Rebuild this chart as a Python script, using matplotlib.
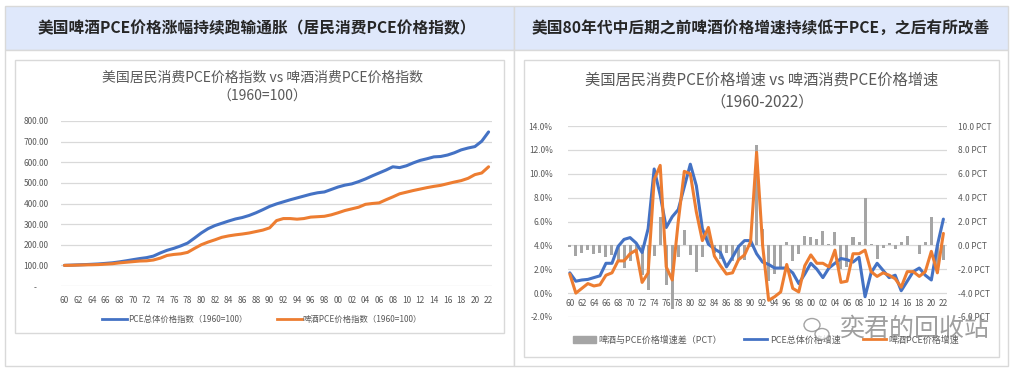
import matplotlib
matplotlib.use('Agg')
import matplotlib.pyplot as plt
from matplotlib.patches import Rectangle, Ellipse
from matplotlib.lines import Line2D
from matplotlib.ticker import FuncFormatter, MultipleLocator

plt.rcParams['font.family'] = ['Noto Sans CJK SC', 'DejaVu Sans']

years = list(range(1960, 2023))

# left chart: price index, 1960 = 100
pce_index = [100, 101.2, 102.5, 103.7, 105.3, 107.0, 109.7, 112.4, 116.8, 122.0,
             127.6, 133.0, 137.5, 144.9, 160.0, 173.1, 182.7, 194.4, 208.0, 232.0,
             257.0, 278.0, 293.0, 304.0, 315.0, 325.0, 332.0, 342.0, 355.0, 370.0,
             386.0, 398.0, 408.0, 418.0, 427.0, 436.0, 445.0, 452.0, 456.0, 468.0,
             480.0, 489.0, 495.0, 506.0, 519.0, 534.0, 548.0, 562.0, 578.0, 574.0,
             583.0, 597.0, 609.0, 617.0, 626.0, 628.0, 635.0, 646.0, 660.0, 669.0,
             676.0, 702.0, 747.0]
beer_index = [100, 100.5, 101.5, 102.5, 103.0, 104.0, 106.0, 108.0, 112.0, 115.0,
              118.0, 121.0, 122.0, 126.0, 135.0, 148.0, 153.0, 156.0, 163.0, 182.0,
              200.0, 213.0, 224.0, 236.0, 243.0, 248.0, 252.0, 257.0, 264.0, 271.0,
              282.0, 317.0, 327.0, 327.0, 324.0, 327.0, 334.0, 336.0, 338.0, 345.0,
              355.0, 366.0, 374.0, 382.0, 396.0, 400.0, 403.0, 418.0, 432.0, 447.0,
              455.0, 463.0, 470.0, 477.0, 483.0, 488.0, 496.0, 504.0, 511.0, 522.0,
              540.0, 548.0, 578.0]

# right chart: yearly growth (%) and gap (pct points)
pce_growth = [1.7, 1.0, 1.1, 1.15, 1.3, 1.45, 2.5, 2.5, 3.9, 4.5,
              4.65, 4.2, 3.4, 5.4, 10.4, 8.2, 5.5, 6.4, 7.0, 8.9,
              10.8, 9.0, 5.4, 4.1, 3.7, 3.4, 2.2, 3.0, 3.9, 4.4,
              4.4, 3.3, 2.6, 2.4, 2.1, 2.1, 2.1, 1.7, 0.8, 1.6,
              2.5, 2.0, 1.3, 2.1, 2.5, 2.9, 2.8, 2.6, 3.0, -0.3,
              1.7, 2.5, 1.9, 1.3, 1.5, 0.2, 1.0, 1.8, 2.1, 1.5,
              1.1, 4.0, 6.2]
beer_growth = [1.6, 0.0, 0.4, 0.8, 0.6, 0.7, 1.5, 1.7, 2.7, 2.7,
               3.3, 3.6, 0.9, 1.7, 9.5, 10.7, 2.2, 1.1, 6.0, 10.2,
               10.0, 6.8, 4.4, 5.5, 3.1, 2.3, 1.6, 1.7, 2.8, 3.2,
               4.3, 11.8, 4.0, -0.6, -0.3, 0.1, 2.4, 0.4, 0.1, 2.3,
               3.2, 2.5, 2.5, 2.2, 3.6, 0.9, 1.0, 3.3, 3.3, 3.6,
               1.8, 1.4, 1.7, 1.5, 1.2, 0.5, 1.8, 1.8, 1.4, 1.8,
               3.5, 1.7, 5.0]
growth_gap = [-0.1, -0.9, -0.6, -0.4, -0.7, -0.6, -1.0, -0.8, -1.2, -1.9,
              -1.35, -0.6, -2.5, -3.7, -0.9, 2.4, -3.3, -5.3, -1.0, 1.3,
              -0.8, -2.2, -1.0, 1.3, -0.6, -1.1, -0.6, -1.3, -1.1, -1.2,
              -0.1, 8.4, 1.4, -3.0, -2.4, -2.0, 0.3, -1.3, -0.7, 0.8,
              0.7, 0.5, 1.2, 0.1, 1.1, -2.0, -1.8, 0.7, 0.3, 4.0,
              0.1, -1.1, -0.2, 0.2, -0.3, 0.3, 0.8, 0.0, -0.7, 0.3,
              2.4, -2.3, -1.2]

W, H = 1017, 372
BLUE = '#4472C4'
ORANGE = '#ED7D31'
GRAY = '#A5A5A5'
TXT = '#595959'
GRID = '#D9D9D9'

fig = plt.figure(figsize=(W / 100, H / 100), dpi=100)


def px_rect(x0, y0, x1, y1):
    # pixel box (top-left origin) -> figure fraction [left, bottom, width, height]
    return [x0 / W, 1 - y1 / H, (x1 - x0) / W, (y1 - y0) / H]


def box(x0, y0, x1, y1, fc, ec):
    l, b, w, h = px_rect(x0, y0, x1, y1)
    fig.patches.append(Rectangle((l, b), w, h, transform=fig.transFigure,
                                 facecolor=fc, edgecolor=ec, lw=1, zorder=-10))


def ftext(x, y, s, **kw):
    fig.text(x / W, 1 - y / H, s, ha='center', va='center', **kw)


# table frame
box(5, 6, 514, 50, '#DFE8FB', '#D9D9D9')
box(514, 6, 1008, 50, '#DFE8FB', '#D9D9D9')
box(5, 50, 514, 366, 'white', '#D9D9D9')
box(514, 50, 1008, 366, 'white', '#D9D9D9')
box(15, 60, 504, 333, 'white', '#D9D9D9')
box(524, 60, 999, 357, 'white', '#D9D9D9')

ftext(257, 28, '美国啤酒PCE价格涨幅持续跑输通胀（居民消费PCE价格指数）',
      fontsize=11.3, fontweight='bold', color='#262626')
ftext(761, 28, '美国80年代中后期之前啤酒价格增速持续低于PCE，之后有所改善',
      fontsize=11.3, fontweight='bold', color='#262626')

# ---- left chart ----
ax1 = fig.add_axes(px_rect(61, 121, 492, 286))
ax1.patch.set_visible(False)
ax1.plot(years, pce_index, color=BLUE, lw=2.2, solid_capstyle='round')
ax1.plot(years, beer_index, color=ORANGE, lw=2.2, solid_capstyle='round')
ax1.set_xlim(1959.5, 2022.5)
ax1.set_ylim(0, 800)
ax1.yaxis.set_major_locator(MultipleLocator(100))
ax1.yaxis.set_major_formatter(FuncFormatter(lambda v, p: '-      ' if v == 0 else f'{v:.2f}'))
ax1.set_xticks(years[::2])
ax1.set_xticklabels([f'{y % 100:02d}' for y in years[::2]])
ax1.grid(axis='y', color=GRID, lw=0.9)
ax1.set_axisbelow(True)
for s in ax1.spines.values():
    s.set_visible(False)
ax1.tick_params(length=0, labelsize=6, labelcolor=TXT)
ax1.tick_params(axis='y', pad=9)
ax1.tick_params(axis='x', pad=7)
ftext(262, 78, '美国居民消费PCE价格指数 vs 啤酒消费PCE价格指数', fontsize=10, color=TXT)
ftext(262, 97, '（1960=100）', fontsize=10, color=TXT)
fig.legend([Line2D([], [], color=BLUE, lw=2), Line2D([], [], color=ORANGE, lw=2)],
           ['PCE总体价格指数（1960=100）', '啤酒PCE价格指数（1960=100）'],
           loc='center', bbox_to_anchor=(262 / W, 1 - 319 / H), ncol=2, frameon=False,
           fontsize=6, handlelength=3, handletextpad=0.1, columnspacing=3.5,
           labelcolor=TXT)

# ---- right chart ----
ax2 = fig.add_axes(px_rect(568, 126, 947, 317))
ax3 = ax2.twinx()
ax3.bar(years, growth_gap, width=0.5, color=GRAY)
ax3.set_ylim(-6, 10)
ax3.yaxis.set_major_locator(MultipleLocator(2))
ax3.yaxis.set_major_formatter(FuncFormatter(lambda v, p: f'{v:.1f} PCT'))
ax3.grid(axis='y', color=GRID, lw=0.9)
ax3.set_axisbelow(True)

ax2.plot(years, pce_growth, color=BLUE, lw=2.2, solid_capstyle='round')
ax2.plot(years, beer_growth, color=ORANGE, lw=2.2, solid_capstyle='round')
ax2.set_ylim(-2, 14)
ax2.yaxis.set_major_locator(MultipleLocator(2))
ax2.yaxis.set_major_formatter(FuncFormatter(lambda v, p: f'{v:.1f}%'))
ax2.set_xlim(1959.7, 2022.6)
ax2.set_xticks(years[::2])
ax2.set_xticklabels([f'{y % 100:02d}' for y in years[::2]])
ax2.spines['bottom'].set_position(('data', 0))
ax2.set_zorder(ax3.get_zorder() + 1)
ax2.patch.set_visible(False)
ax3.patch.set_visible(False)
for a in (ax2, ax3):
    for s in a.spines.values():
        s.set_color('none')
    a.tick_params(length=0, labelsize=6, labelcolor=TXT)
ax2.tick_params(axis='y', pad=11)
ax2.tick_params(axis='x', pad=4)
ax3.tick_params(axis='y', pad=8)
ftext(762, 80, '美国居民消费PCE价格增速 vs 啤酒消费PCE价格增速', fontsize=11, color=TXT)
ftext(762, 102, '（1960-2022）', fontsize=11, color=TXT)
fig.legend([Rectangle((0, 0), 1, 1, color=GRAY), Line2D([], [], color=BLUE, lw=2),
            Line2D([], [], color=ORANGE, lw=2)],
           ['啤酒与PCE价格增速差（PCT）', 'PCE总体价格增速', '啤酒PCE价格增速'],
           loc='center', bbox_to_anchor=(766 / W, 1 - 340 / H), ncol=3, frameon=False,
           fontsize=6.5, handlelength=2.5, handletextpad=0.3, columnspacing=2.5,
           labelcolor=TXT)

# watermark
fig.patches.append(Ellipse((812 / W, 1 - 325 / H), 16 / W, 13 / H, transform=fig.transFigure,
                           facecolor='white', edgecolor='#8c8c8c', lw=1, alpha=0.8, zorder=5))
fig.patches.append(Ellipse((822 / W, 1 - 334 / H), 14 / W, 11 / H, transform=fig.transFigure,
                           facecolor='white', edgecolor='#8c8c8c', lw=1, alpha=0.8, zorder=6))
fig.text(915 / W, 1 - 329 / H, '奕君的回收站', ha='center', va='center', fontsize=18,
         color='#7f7f7f', alpha=0.75, zorder=7)

fig.savefig('out.png', dpi=100, facecolor='white')
